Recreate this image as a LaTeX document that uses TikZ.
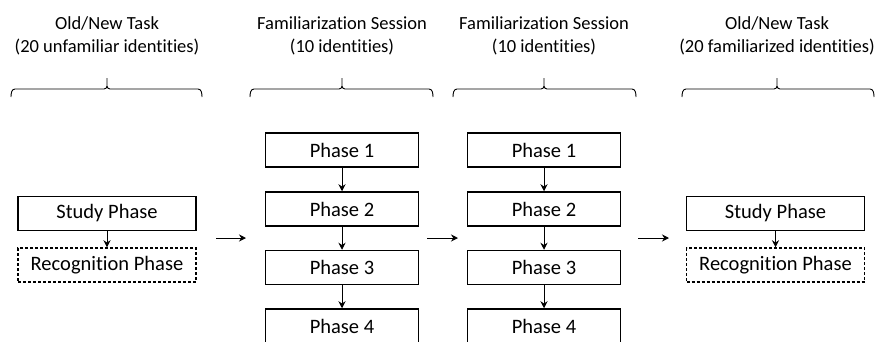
\documentclass[tikz,border=0pt]{standalone}
\usepackage{fontspec}
\setmainfont{Carlito}[Ligatures=NoCommon]
\usetikzlibrary{arrows.meta}
\tikzset{
  taskbox/.style={draw, line width=1.5pt, minimum height=34pt, inner sep=0pt, font=\fontsize{20.5}{22}\selectfont},
  studybox/.style={taskbox, minimum width=178pt},
  recogbox/.style={taskbox, minimum width=178pt, dashed, dash pattern=on 3pt off 2pt},
  phasebox/.style={taskbox, minimum width=153pt},
  header/.style={align=center, font=\fontsize{18.5}{23}\selectfont},
  link/.style={->, line width=0.9pt}
}
\begin{document}
\begin{tikzpicture}[>={Stealth[length=7pt,width=7pt]},x=1pt,y=-1pt]
	\useasboundingbox (0,0) rectangle (877,341);
	% headers
	\node[header] (h1) at (107,36) {Old/New Task\\(20 unfamiliar identities)};
	\node[header] (h2) at (342,36) {Familiarization Session\\(10 identities)};
	\node[header] (h3) at (544,36) {Familiarization Session\\(10 identities)};
	\node[header] (h4) at (777,36) {Old/New Task\\(20 familiarized identities)};
	% braces under the headers
	\foreach \l/\m/\r in {11/107/202, 250/342/433, 453/544/636, 682/777/874}
		\draw[line width=0.9pt] (\l,97) to[out=90,in=180] (\l+4,89) -- (\m-3,89) to[out=0,in=-90] (\m,86) -- (\m,78)
			(\m,86) to[out=-90,in=180] (\m+3,89) -- (\r-4,89) to[out=0,in=90] (\r,97);
	% first old/new task
	\node[studybox] (s1) at (107,213.5) {Study Phase};
	\node[recogbox] (r1) at (107,265) {Recognition Phase};
	\draw[link] (s1) -- (r1);
	% familiarization sessions
	\foreach \c/\x in {a/342, b/544}{
		\node[phasebox] (\c1) at (\x,150) {Phase 1};
		\node[phasebox] (\c2) at (\x,209) {Phase 2};
		\node[phasebox] (\c3) at (\x,267.5) {Phase 3};
		\node[phasebox] (\c4) at (\x,326) {Phase 4};
		\draw[link] (\c1) -- (\c2);
		\draw[link] (\c2) -- (\c3);
		\draw[link] (\c3) -- (\c4);
	}
	% second old/new task
	\node[studybox] (s2) at (775.5,213.5) {Study Phase};
	\node[recogbox] (r2) at (775.5,265) {Recognition Phase};
	\draw[link] (s2) -- (r2);
	% arrows between the blocks
	\coordinate (p1) at (216,238); \coordinate (q1) at (246,238);
	\coordinate (p2) at (427,238); \coordinate (q2) at (458,238);
	\coordinate (p3) at (638,238); \coordinate (q3) at (669,238);
	\draw[link] (p1) -- (q1);
	\draw[link] (p2) -- (q2);
	\draw[link] (p3) -- (q3);
\end{tikzpicture}
\end{document}
